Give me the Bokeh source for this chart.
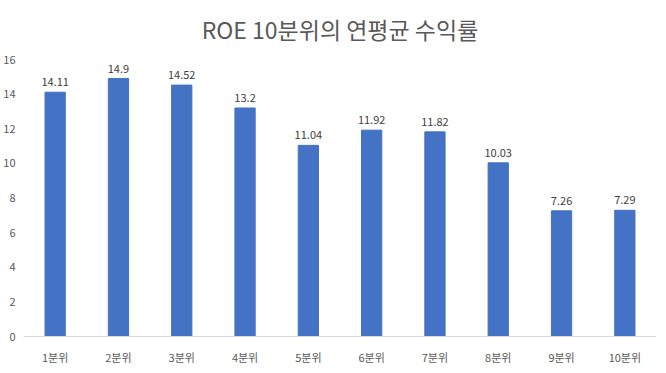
from bokeh.plotting import figure
from bokeh.models import ColumnDataSource, FactorRange, Range1d, FixedTicker, LabelSet
from bokeh.core.properties import value
from bokeh.embed import file_html
from bokeh.resources import INLINE

title_text = "ROE 10분위의 연평균 수익률"
categories = ["1분위", "2분위", "3분위", "4분위", "5분위", "6분위", "7분위", "8분위", "9분위", "10분위"]
values = [14.11, 14.9, 14.52, 13.2, 11.04, 11.92, 11.82, 10.03, 7.26, 7.29]
labels = [str(v) for v in values]
y_ticks = [0, 2, 4, 6, 8, 10, 12, 14, 16]

FONT = "Noto Sans CJK KR"

src = ColumnDataSource(dict(x=categories, top=values, lab=labels))

p = figure(frame_width=633, frame_height=277, x_range=FactorRange(factors=categories, range_padding=0),
           y_range=Range1d(0, 16), output_backend="svg", toolbar_location=None,
           title=title_text, min_border_left=19, min_border_right=0,
           min_border_bottom=0, min_border_top=0)

p.vbar(x="x", top="top", width=0.32, source=src, color="#4472C4")

lbl = LabelSet(x="x", y="top", text="lab", source=src, text_align="center",
               text_baseline="bottom", y_offset=6, text_font_size=value("11px"),
               text_color=value("#404040"), text_font=value(FONT))
p.add_layout(lbl)

p.title.align = "center"
p.title.vertical_align = "top"
p.title.text_font = FONT
p.title.text_font_size = "23px"
p.title.text_font_style = "normal"
p.title.text_color = "#595959"
p.title.standoff = 23
p.title.offset = -8

p.outline_line_color = None
p.xgrid.grid_line_color = None
p.ygrid.grid_line_color = None

p.yaxis.ticker = FixedTicker(ticks=y_ticks)
p.yaxis.axis_line_color = None
p.yaxis.major_tick_line_color = None
p.yaxis.minor_tick_line_color = None
p.yaxis.major_tick_out = 0
p.yaxis.major_tick_in = 0
p.yaxis.major_label_text_font = FONT
p.yaxis.major_label_text_font_size = "11px"
p.yaxis.major_label_text_color = "#595959"
p.yaxis.major_label_standoff = 8

p.xaxis.axis_line_color = "#d9d9d9"
p.xaxis.major_tick_line_color = None
p.xaxis.minor_tick_line_color = None
p.xaxis.major_tick_out = 0
p.xaxis.major_tick_in = 0
p.xaxis.major_label_text_font = FONT
p.xaxis.major_label_text_font_size = "11px"
p.xaxis.major_label_text_color = "#595959"
p.xaxis.major_label_standoff = 12

open("out.html", "w").write(file_html(p, INLINE))
